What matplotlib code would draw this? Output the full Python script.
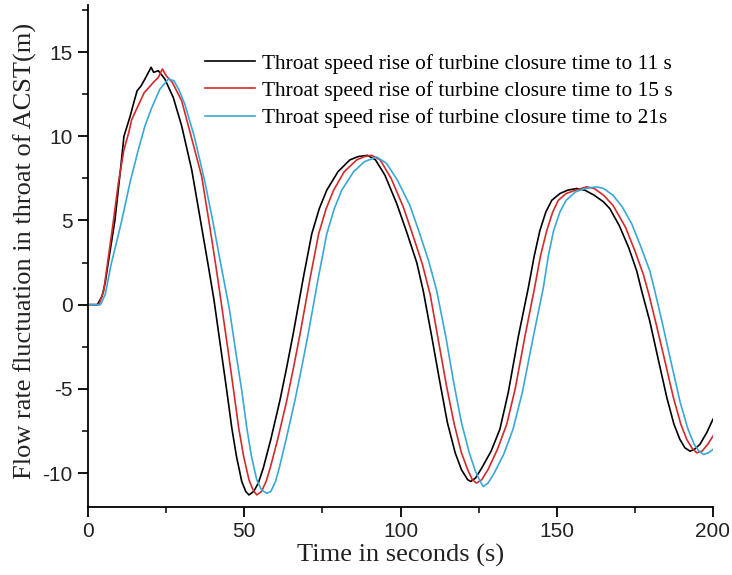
import matplotlib
matplotlib.use("Agg")
import matplotlib.pyplot as plt
from matplotlib.ticker import MultipleLocator

plt.rcParams['axes.unicode_minus'] = False

# ---- data ----
t_11 = [0, 3, 4.5, 5.5, 6.4, 7.5, 8.6, 9.5, 10.5, 11.5, 12.5, 13.5, 14.5, 15.7, 17, 18.5, 20.2, 21, 22.5,
        24.6, 27.3, 30, 33.2, 36, 38.5, 40.3, 42.5, 44.4, 46, 47.5, 49.2, 50.5, 51.5,
        53, 54.5, 56.1, 58.5, 61.4, 63.5, 65.7, 68.9, 71.6, 74, 76.4, 80, 83.8, 86.5, 89.5,
        92, 95, 98.8, 102, 105.2, 107.3, 110, 112.6, 115, 117.5, 119.5, 121.5, 122.5,
        124, 126, 129, 131.8, 134.5, 137.7, 140.9, 142.8, 144.6, 146.5, 148.4, 151, 153.5, 156.4,
        159, 162, 165, 167, 170, 173, 175.6, 177.2, 179.8, 182.3, 185.2, 187.5, 189.4, 191, 192.6,
        194, 195.8, 198, 200]
v_11 = [0, 0, 0.5, 1.3, 2.4, 3.7, 5.0, 6.5, 8.2, 10.0, 10.6, 11.2, 11.9, 12.7, 13.0, 13.5, 14.1, 13.8, 13.9,
        13.4, 12.3, 10.6, 8.0, 5.0, 2.3, 0.3, -2.6, -5.1, -7.3, -9.0, -10.5, -11.1, -11.3,
        -11.1, -10.6, -9.7, -8.0, -5.7, -3.8, -1.7, 1.6, 4.2, 5.7, 6.8, 7.9, 8.6, 8.8, 8.87,
        8.6, 7.7, 6.0, 4.3, 2.5, 0.8, -1.9, -4.6, -7.0, -8.8, -9.8, -10.4, -10.5,
        -10.3, -9.7, -8.7, -7.4, -5.2, -1.9, 1.0, 2.9, 4.4, 5.5, 6.2, 6.6, 6.8, 6.9,
        6.8, 6.5, 6.1, 5.7, 4.7, 3.4, 2.0, 0.8, -1.0, -3.1, -5.5, -7.1, -8.0, -8.5, -8.7,
        -8.6, -8.3, -7.6, -6.8]

t_15 = [0, 3.5, 5, 6.5, 8, 9.7, 11.5, 13, 14, 16, 18, 19.5, 20.9, 22.5, 23.8, 25, 27,
        30, 33, 36.4, 39, 41, 42.8, 44.8, 46.6, 48.2, 49.8, 51.5, 52.8, 54,
        55.5, 57, 58.3, 60.7, 63.6, 65.7, 67.9, 71.1, 73.8, 76.2, 78.6, 82, 86, 88.5, 90.8,
        93.5, 97, 100.9, 104, 107, 109.5, 112, 114.8, 117.2, 119.5, 121.5, 123, 124.3,
        126, 128, 131, 134, 136.7, 139.8, 142.9, 144.8, 146.8, 148.7, 150.5, 153, 156, 159.6,
        162, 165, 168, 172, 175, 177.7, 179.5, 182, 184.3, 187.3, 189.7, 191.6, 193.2, 194.8,
        196.5, 198.3, 200]
v_15 = [0, 0, 0.8, 2.8, 4.8, 7.2, 9.2, 10.2, 11.0, 11.8, 12.6, 12.9, 13.2, 13.5, 14.0, 13.6, 13.2,
        12.1, 10.0, 7.6, 4.6, 2.2, -0.1, -2.7, -5.1, -7.3, -9.0, -10.4, -11.0, -11.3,
        -11.1, -10.5, -9.7, -8.0, -5.7, -3.8, -1.7, 1.6, 4.2, 5.7, 6.8, 7.9, 8.6, 8.8, 8.87,
        8.6, 7.5, 5.8, 4.1, 2.4, 0.6, -2.0, -4.9, -7.1, -8.8, -9.8, -10.4, -10.6,
        -10.4, -9.8, -8.6, -7.1, -5.0, -1.9, 1.0, 2.9, 4.4, 5.5, 6.2, 6.6, 6.8, 7.0,
        6.9, 6.5, 5.9, 4.6, 3.2, 1.8, 0.6, -1.3, -3.1, -5.5, -7.1, -8.0, -8.5, -8.8,
        -8.7, -8.3, -7.8]

t_21 = [0, 4, 5.5, 7.4, 9, 10.8, 13.5, 16.1, 18.2, 20.4, 23, 25.7, 27.5, 29,
        31, 34, 37.4, 40, 42.8, 45.2, 47.2, 49.2, 50.8, 52.3, 54, 55.5, 57.2,
        58.5, 60, 61.2, 63.4, 66.2, 68.3, 70.5, 73.7, 76.4, 78.8, 81.2, 85, 88.5, 92.4,
        95.5, 99, 103, 106, 109, 111.5, 114.5, 117, 119.5, 122, 124, 125.5, 126.5,
        128, 130, 133, 136, 139, 142.5, 145.7, 147.3, 149, 151, 153, 156, 159, 162.8,
        165, 168, 171, 174, 177, 179.8, 181.4, 183.8, 186.2, 189.5, 192, 194, 195.5, 197,
        198.5, 200]
v_21 = [0, 0, 0.6, 2.4, 3.6, 5.0, 7.3, 9.2, 10.6, 11.7, 12.8, 13.4, 13.3, 12.8,
        11.9, 10.0, 7.3, 4.9, 2.1, -0.2, -2.7, -5.1, -7.3, -9.0, -10.4, -11.0, -11.2,
        -11.1, -10.5, -9.7, -8.0, -5.7, -3.8, -1.7, 1.6, 4.2, 5.7, 6.8, 7.9, 8.5, 8.77,
        8.4, 7.4, 5.9, 4.3, 2.6, 0.9, -1.9, -4.6, -7.0, -8.8, -9.9, -10.5, -10.8,
        -10.6, -10.0, -8.9, -7.4, -5.2, -1.9, 1.0, 2.9, 4.4, 5.5, 6.2, 6.7, 6.9, 7.0,
        6.9, 6.5, 5.8, 4.8, 3.4, 2.0, 0.8, -1.1, -3.1, -5.8, -7.4, -8.3, -8.7, -8.9,
        -8.8, -8.6]

labels = ["Throat speed rise of turbine closure time to 11 s",
          "Throat speed rise of turbine closure time to 15 s",
          "Throat speed rise of turbine closure time to 21s"]
colors = ["#000000", "#d42a2a", "#38a8d8"]

x_ticks = [0, 50, 100, 150, 200]
y_ticks = [-10, -5, 0, 5, 10, 15]
xlabel = "Time in seconds (s)"
ylabel = "Flow rate fluctuation in throat of ACST(m)"

# ---- figure ----
fig = plt.figure(figsize=(7.32, 5.75), dpi=100)
ax = fig.add_axes([88/732, 1-506.7/575, (713-88)/732, (506.7-5)/575])

for t, v, lab, c in zip([t_11, t_15, t_21], [v_11, v_15, v_21], labels, colors):
    ax.plot(t, v, color=c, lw=1.2, label=lab)

ax.set_xlim(0, 200)
ax.set_ylim(-12, 17.8)
ax.set_xticks(x_ticks)
ax.set_yticks(y_ticks)
ax.xaxis.set_minor_locator(MultipleLocator(25))
ax.yaxis.set_minor_locator(MultipleLocator(2.5))
ax.spines['top'].set_visible(False)
ax.spines['right'].set_visible(False)
for s in ['left', 'bottom']:
    ax.spines[s].set_linewidth(1.3)
ax.tick_params(which='major', direction='out', length=7, width=1.3,
               labelsize=15, pad=4)
ax.tick_params(which='minor', direction='out', length=4, width=1.1)
for lbl in ax.get_xticklabels() + ax.get_yticklabels():
    lbl.set_family('Liberation Sans')
    lbl.set_color('#222222')

ax.set_xlabel(xlabel, family='Liberation Serif', fontsize=19, color='#222222')
ax.set_ylabel(ylabel, family='Liberation Serif', fontsize=19, color='#222222')
ax.xaxis.set_label_coords(0.5, -0.074)
ax.yaxis.set_label_coords(-0.082, 0.51)

leg = ax.legend(loc='upper left', bbox_to_anchor=(0.187, 0.903), frameon=False,
                prop={'family': 'Liberation Serif', 'size': 15.4},
                handlelength=2.34, handletextpad=0.33, labelspacing=0.34,
                borderaxespad=0, borderpad=0)

fig.savefig("out.png", dpi=100)
